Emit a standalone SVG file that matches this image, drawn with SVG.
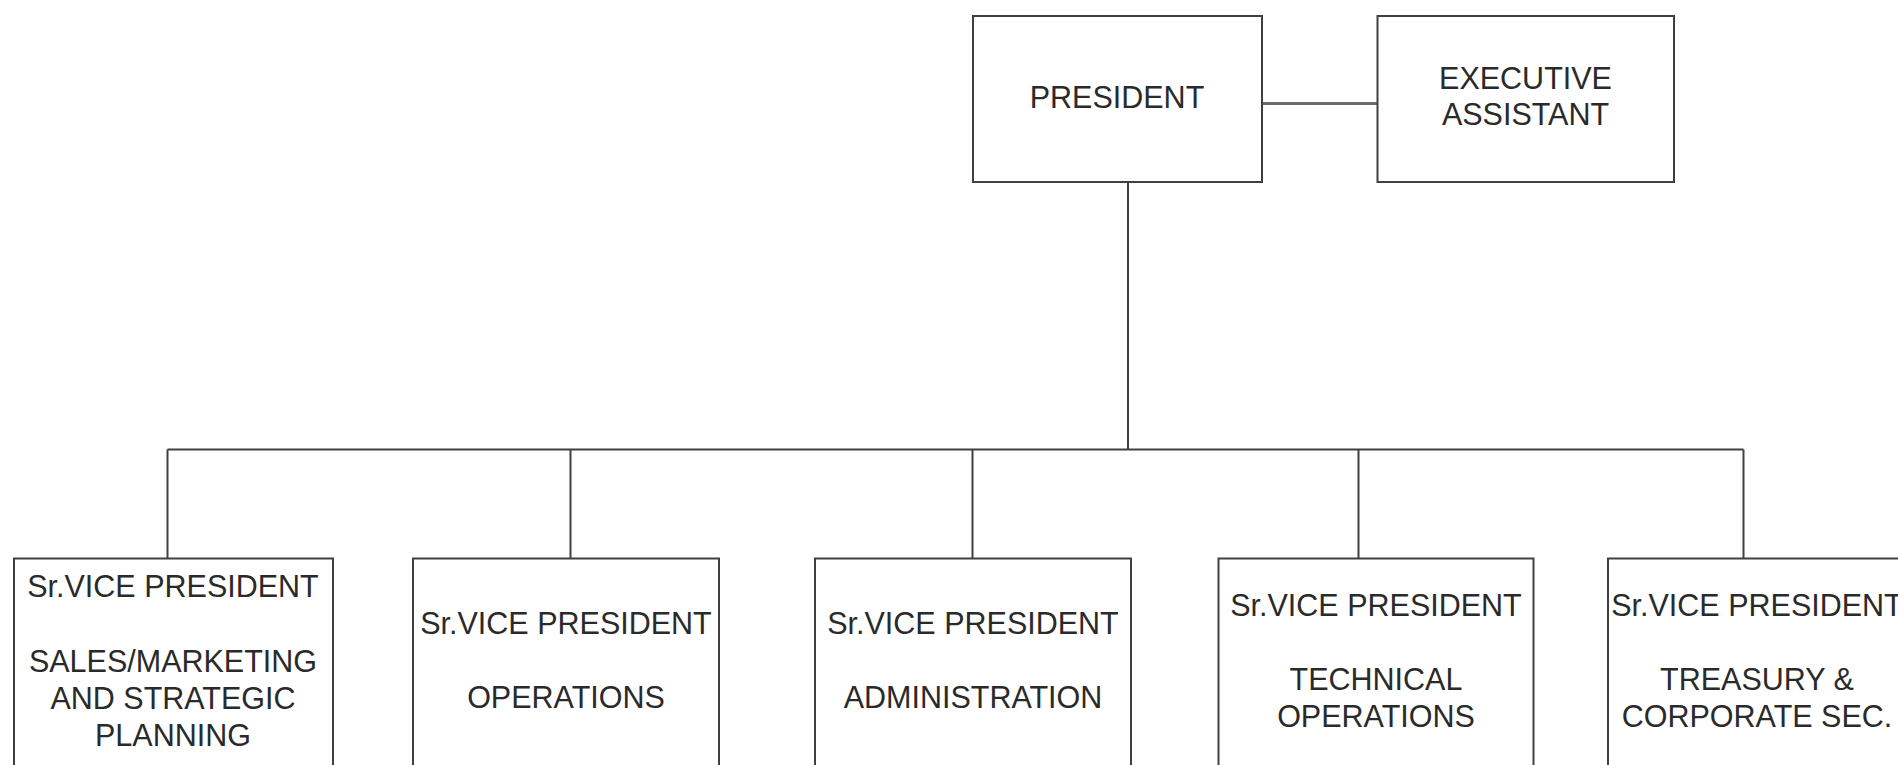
<svg xmlns="http://www.w3.org/2000/svg" width="1898" height="765" viewBox="0 0 1898 765">
<style>
.box{fill:#fff;stroke:#404040;stroke-width:2}
.ln{stroke:#404040;stroke-width:2;fill:none}
.ln2{stroke:#6a6a6a;stroke-width:3;fill:none}
text{font-family:"Liberation Sans",Arial,sans-serif;font-size:30.5px;fill:#2a2a2a;text-anchor:middle}
</style>
<rect width="1898" height="765" fill="#fff"/>
<g id="connectors">
<line class="ln2" x1="1262" y1="103.5" x2="1377" y2="103.5"/>
<line class="ln" x1="1128" y1="182" x2="1128" y2="449.5"/>
<line class="ln" x1="167.5" y1="449.5" x2="1743.5" y2="449.5"/>
<line class="ln" x1="167.5" y1="449.5" x2="167.5" y2="558"/>
<line class="ln" x1="570.5" y1="449.5" x2="570.5" y2="558"/>
<line class="ln" x1="972.5" y1="449.5" x2="972.5" y2="558"/>
<line class="ln" x1="1358.5" y1="449.5" x2="1358.5" y2="558"/>
<line class="ln" x1="1743.5" y1="449.5" x2="1743.5" y2="558"/>
</g>
<g id="president">
<rect class="box" x="973" y="16" width="289" height="166"/>
<text x="1117" y="108">PRESIDENT</text>
</g>
<g id="executive-assistant">
<rect class="box" x="1377.5" y="16" width="296.5" height="166"/>
<text x="1525.5" y="89">EXECUTIVE</text>
<text x="1525.5" y="125">ASSISTANT</text>
</g>
<g id="svp-sales">
<rect class="box" x="14" y="558.5" width="319" height="240"/>
<text x="173" y="597">Sr.VICE PRESIDENT</text>
<text x="173" y="672">SALES/MARKETING</text>
<text x="173" y="709">AND STRATEGIC</text>
<text x="173" y="746">PLANNING</text>
</g>
<g id="svp-operations">
<rect class="box" x="413" y="558.5" width="306" height="240"/>
<text x="566" y="634">Sr.VICE PRESIDENT</text>
<text x="566" y="708">OPERATIONS</text>
</g>
<g id="svp-administration">
<rect class="box" x="815" y="558.5" width="316" height="240"/>
<text x="973" y="634">Sr.VICE PRESIDENT</text>
<text x="973" y="708">ADMINISTRATION</text>
</g>
<g id="svp-technical">
<rect class="box" x="1218.5" y="558.5" width="315" height="240"/>
<text x="1376" y="616">Sr.VICE PRESIDENT</text>
<text x="1376" y="690">TECHNICAL</text>
<text x="1376" y="727">OPERATIONS</text>
</g>
<g id="svp-treasury">
<rect class="box" x="1608" y="558.5" width="300" height="240"/>
<text x="1757" y="616">Sr.VICE PRESIDENT</text>
<text x="1757" y="690">TREASURY &amp;</text>
<text x="1757" y="727">CORPORATE SEC.</text>
</g>
</svg>
